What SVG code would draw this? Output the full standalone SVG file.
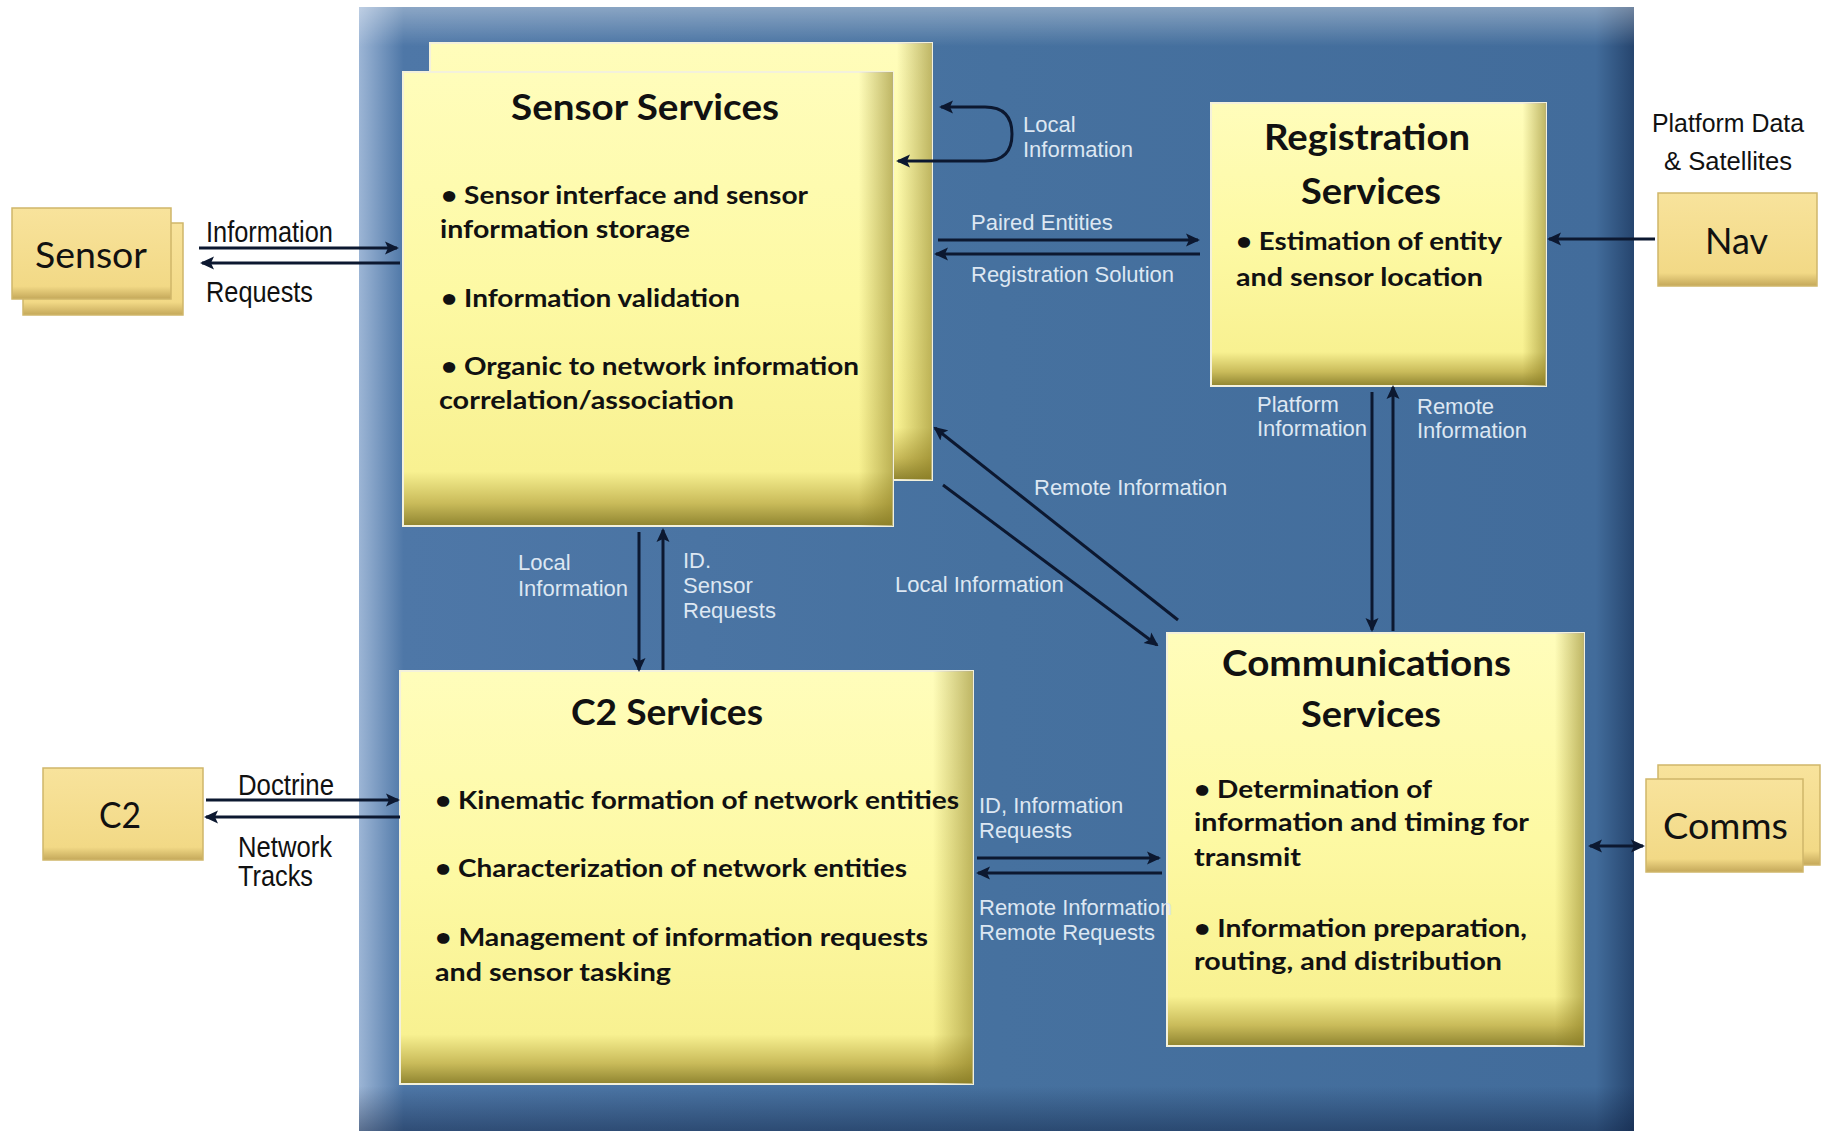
<svg xmlns="http://www.w3.org/2000/svg" width="1821" height="1131" viewBox="0 0 1821 1131">
<style>
.title{font-family:Lato,"Liberation Sans",sans-serif;font-weight:700;font-size:36px;fill:#111;text-anchor:middle}
.bul{font-family:Lato,"Liberation Sans",sans-serif;font-weight:700;font-size:25px;fill:#111}
.lbl{font-family:"Liberation Sans",Arial,sans-serif;font-size:22px;fill:#dde7f2}
.ext{font-family:"Liberation Sans",Arial,sans-serif;font-size:29px;fill:#111}
.ext2{font-family:"Liberation Sans",Arial,sans-serif;font-size:26px;fill:#111}
.node{font-family:Lato,"Liberation Sans",sans-serif;font-size:37px;fill:#111;text-anchor:middle}
.svc{fill:url(#yfill);stroke:#f3f1dc;stroke-width:2}
.svcR{fill:url(#yright)}
.ext-box{fill:url(#tan);stroke:#cfb66a;stroke-width:1.5}
.conn{fill:none;stroke:#0c1830;stroke-width:3}
</style>
<defs>
<linearGradient id="blueH" x1="0" y1="0" x2="1" y2="0">
<stop offset="0" stop-color="#9cb5d5"/>
<stop offset="0.035" stop-color="#4e77a7"/>
<stop offset="0.5" stop-color="#46719f"/>
<stop offset="0.97" stop-color="#426c9b"/>
<stop offset="1" stop-color="#26456e"/>
</linearGradient>
<linearGradient id="blueV" x1="0" y1="0" x2="0" y2="1">
<stop offset="0" stop-color="#ffffff" stop-opacity="0.35"/>
<stop offset="0.035" stop-color="#ffffff" stop-opacity="0"/>
<stop offset="0.96" stop-color="#0a1a3a" stop-opacity="0"/>
<stop offset="1" stop-color="#0a1a3a" stop-opacity="0.45"/>
</linearGradient>
<linearGradient id="yfill" x1="0" y1="0" x2="0" y2="1">
<stop offset="0" stop-color="#fffdbb"/>
<stop offset="0.5" stop-color="#fdf9a3"/>
<stop offset="0.88" stop-color="#f8f191"/>
<stop offset="0.95" stop-color="#c9bb5a"/>
<stop offset="1" stop-color="#8f8430"/>
</linearGradient>
<linearGradient id="yright" x1="0" y1="0" x2="1" y2="0">
<stop offset="0.93" stop-color="#8a7c20" stop-opacity="0"/>
<stop offset="1" stop-color="#8a7c20" stop-opacity="0.55"/>
</linearGradient>
<linearGradient id="tan" x1="0" y1="0" x2="0" y2="1">
<stop offset="0" stop-color="#f8e39c"/>
<stop offset="0.86" stop-color="#f2d986"/>
<stop offset="1" stop-color="#c4a85a"/>
</linearGradient>
<marker id="arr" viewBox="0 0 14 14" markerWidth="14" markerHeight="14" markerUnits="userSpaceOnUse" refX="12" refY="7" orient="auto-start-reverse">
<path d="M0,0.5 L14,7 L0,13.5 L3,7 z" fill="#0c1830"/>
</marker>
</defs>

<rect width="1821" height="1131" fill="#ffffff"/>

<g id="background">
<rect x="359" y="7" width="1275" height="1124" fill="url(#blueH)"/>
<rect x="359" y="7" width="1275" height="1124" fill="url(#blueV)"/>
</g>

<g id="sensor-services">
<rect class="svc" x="430" y="43" width="502" height="437"/>
<rect class="svcR" x="430" y="43" width="502" height="437"/>
<rect class="svc" x="403" y="72" width="490" height="454"/>
<rect class="svcR" x="403" y="72" width="490" height="454"/>
<text class="title" x="645" y="120" textLength="268" lengthAdjust="spacingAndGlyphs">Sensor Services</text>
<text class="bul" x="441" y="204" textLength="367" lengthAdjust="spacingAndGlyphs">• Sensor interface and sensor</text>
<text class="bul" x="440" y="238" textLength="250" lengthAdjust="spacingAndGlyphs">information storage</text>
<text class="bul" x="441" y="307" textLength="299" lengthAdjust="spacingAndGlyphs">• Information validation</text>
<text class="bul" x="441" y="375" textLength="418" lengthAdjust="spacingAndGlyphs">• Organic to network information</text>
<text class="bul" x="439" y="409" textLength="295" lengthAdjust="spacingAndGlyphs">correlation/association</text>
</g>

<g id="registration-services">
<rect class="svc" x="1211" y="103" width="335" height="283"/>
<rect class="svcR" x="1211" y="103" width="335" height="283"/>
<text class="title" x="1367" y="150" textLength="206" lengthAdjust="spacingAndGlyphs">Registration</text>
<text class="title" x="1371" y="204" textLength="140" lengthAdjust="spacingAndGlyphs">Services</text>
<text class="bul" x="1236" y="250" textLength="266" lengthAdjust="spacingAndGlyphs">• Estimation of entity</text>
<text class="bul" x="1236" y="286" textLength="247" lengthAdjust="spacingAndGlyphs">and sensor location</text>
</g>

<g id="communications-services">
<rect class="svc" x="1167" y="633" width="417" height="413"/>
<rect class="svcR" x="1167" y="633" width="417" height="413"/>
<text class="title" x="1366.5" y="676" textLength="289" lengthAdjust="spacingAndGlyphs">Communications</text>
<text class="title" x="1371" y="727" textLength="140" lengthAdjust="spacingAndGlyphs">Services</text>
<text class="bul" x="1194" y="798" textLength="238" lengthAdjust="spacingAndGlyphs">• Determination of</text>
<text class="bul" x="1194" y="831" textLength="335" lengthAdjust="spacingAndGlyphs">information and timing for</text>
<text class="bul" x="1194" y="866" textLength="107" lengthAdjust="spacingAndGlyphs">transmit</text>
<text class="bul" x="1194" y="937" textLength="333" lengthAdjust="spacingAndGlyphs">• Information preparation,</text>
<text class="bul" x="1194" y="970" textLength="308" lengthAdjust="spacingAndGlyphs">routing, and distribution</text>
</g>

<g id="c2-services">
<rect class="svc" x="400" y="671" width="573" height="413"/>
<rect class="svcR" x="400" y="671" width="573" height="413"/>
<text class="title" x="667" y="725" textLength="192" lengthAdjust="spacingAndGlyphs">C2 Services</text>
<text class="bul" x="435" y="809" textLength="524" lengthAdjust="spacingAndGlyphs">• Kinematic formation of network entities</text>
<text class="bul" x="435" y="877" textLength="472" lengthAdjust="spacingAndGlyphs">• Characterization of network entities</text>
<text class="bul" x="435" y="946" textLength="493" lengthAdjust="spacingAndGlyphs">• Management of information requests</text>
<text class="bul" x="435" y="981" textLength="236" lengthAdjust="spacingAndGlyphs">and sensor tasking</text>
</g>

<g id="sensor">
<rect class="ext-box" x="23" y="223" width="160" height="92"/>
<rect class="ext-box" x="12" y="208" width="159" height="91"/>
<text class="node" x="91" y="268" textLength="112" lengthAdjust="spacingAndGlyphs">Sensor</text>
</g>

<g id="c2">
<rect class="ext-box" x="43" y="768" width="160" height="92"/>
<text class="node" x="120" y="828" textLength="42" lengthAdjust="spacingAndGlyphs">C2</text>
</g>

<g id="nav">
<rect class="ext-box" x="1658" y="193" width="159" height="93"/>
<text class="node" x="1736.5" y="254" textLength="63" lengthAdjust="spacingAndGlyphs">Nav</text>
</g>

<g id="comms">
<rect class="ext-box" x="1658" y="765" width="162" height="100"/>
<rect class="ext-box" x="1646" y="779" width="157" height="93"/>
<text class="node" x="1725.5" y="839" textLength="125" lengthAdjust="spacingAndGlyphs">Comms</text>
</g>

<g id="connectors">
<path class="conn" marker-end="url(#arr)" d="M199,248 L397,248"/>
<path class="conn" marker-end="url(#arr)" d="M400,263 L202,263"/>
<path class="conn" marker-end="url(#arr)" d="M206,800 L398,800"/>
<path class="conn" marker-end="url(#arr)" d="M400,817 L206,817"/>
<path class="conn" marker-start="url(#arr)" marker-end="url(#arr)" d="M941,107 L985,107 Q1012,107 1012,134 Q1012,161 985,161 L898,161"/>
<path class="conn" marker-end="url(#arr)" d="M938,240 L1198,240"/>
<path class="conn" marker-end="url(#arr)" d="M1200,254 L936,254"/>
<path class="conn" marker-end="url(#arr)" d="M1655,239 L1549,239"/>
<path class="conn" marker-end="url(#arr)" d="M1372,392 L1372,630"/>
<path class="conn" marker-end="url(#arr)" d="M1393,631 L1393,387"/>
<path class="conn" marker-end="url(#arr)" d="M1178,620 L935,428"/>
<path class="conn" marker-end="url(#arr)" d="M943,485 L1157,645"/>
<path class="conn" marker-end="url(#arr)" d="M639,532 L639,670"/>
<path class="conn" marker-end="url(#arr)" d="M663,670 L663,530"/>
<path class="conn" marker-end="url(#arr)" d="M977,858 L1159,858"/>
<path class="conn" marker-end="url(#arr)" d="M1162,873 L978,873"/>
<path class="conn" marker-start="url(#arr)" marker-end="url(#arr)" d="M1590,846 L1643,846"/>
</g>

<g id="labels">
<text class="ext" x="206" y="242" textLength="127" lengthAdjust="spacingAndGlyphs">Information</text>
<text class="ext" x="206" y="302" textLength="107" lengthAdjust="spacingAndGlyphs">Requests</text>
<text class="ext" x="238" y="795" textLength="96" lengthAdjust="spacingAndGlyphs">Doctrine</text>
<text class="ext" x="238" y="857" textLength="94" lengthAdjust="spacingAndGlyphs">Network</text>
<text class="ext" x="238" y="886" textLength="75" lengthAdjust="spacingAndGlyphs">Tracks</text>
<text class="ext2" x="1652" y="132" textLength="152" lengthAdjust="spacingAndGlyphs">Platform Data</text>
<text class="ext2" x="1664" y="170" textLength="128" lengthAdjust="spacingAndGlyphs">&amp; Satellites</text>
<text class="lbl" x="1023" y="132">Local</text>
<text class="lbl" x="1023" y="157">Information</text>
<text class="lbl" x="971" y="230">Paired Entities</text>
<text class="lbl" x="971" y="282">Registration Solution</text>
<text class="lbl" x="1257" y="412">Platform</text>
<text class="lbl" x="1257" y="436">Information</text>
<text class="lbl" x="1417" y="414">Remote</text>
<text class="lbl" x="1417" y="438">Information</text>
<text class="lbl" x="1034" y="495">Remote Information</text>
<text class="lbl" x="895" y="592">Local Information</text>
<text class="lbl" x="518" y="570">Local</text>
<text class="lbl" x="518" y="596">Information</text>
<text class="lbl" x="683" y="568">ID.</text>
<text class="lbl" x="683" y="593">Sensor</text>
<text class="lbl" x="683" y="618">Requests</text>
<text class="lbl" x="979" y="813">ID, Information</text>
<text class="lbl" x="979" y="838">Requests</text>
<text class="lbl" x="979" y="915">Remote Information</text>
<text class="lbl" x="979" y="940">Remote Requests</text>
</g>
</svg>
